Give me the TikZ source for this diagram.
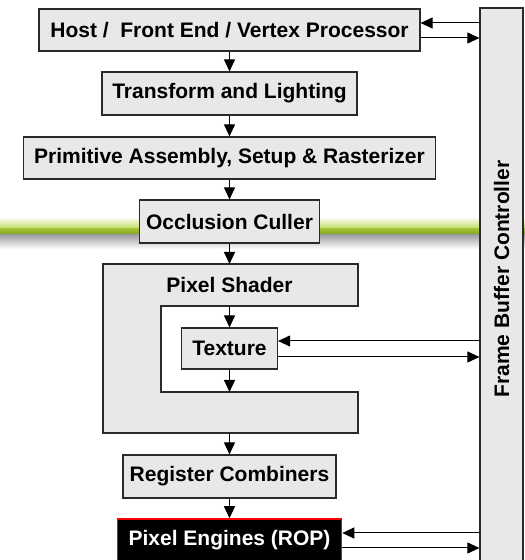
\documentclass[tikz,border=0pt]{standalone}
\usepackage{fontspec}
\setmainfont{Liberation Sans}
\usetikzlibrary{arrows.meta}
\definecolor{boxfill}{HTML}{E8E8E8}
\definecolor{boxline}{HTML}{2A2A2A}
\definecolor{bandlight}{HTML}{BCD858}
\definecolor{bandmid}{HTML}{A2C236}
\definecolor{banddark}{HTML}{7E9E1C}
\definecolor{bandshadow}{HTML}{A0A0A0}
\tikzset{
  stage/.style={draw=boxline, fill=boxfill, line width=1.2pt, inner sep=0pt,
    font=\fontsize{21}{25}\selectfont\bfseries, align=center},
  rop/.style={stage, fill=black, draw=red, line width=1.6pt, text=white},
  flow/.style={line width=1pt, draw=black, -{Triangle[length=12pt,width=11pt]}},
}
\begin{document}
\begin{tikzpicture}[x=1pt, y=1pt]
\useasboundingbox (0,0) rectangle (525,560);
\clip (0,0) rectangle (525,560);

% green separator band behind the pipeline
\shade[top color=white, bottom color=bandlight] (0,343) rectangle (525,331);
\shade[top color=bandmid, bottom color=banddark] (0,331.5) rectangle (525,324.5);
\shade[top color=bandshadow, bottom color=white] (0,325) rectangle (525,311);

% pipeline stages
\node[stage, minimum width=381pt, minimum height=42pt] (host) at (229.5,530) {Host /~ Front End / Vertex Processor};
\node[stage, minimum width=255pt, minimum height=43pt] (tl) at (229.5,466.5) {Transform and Lighting};
\node[stage, minimum width=412pt, minimum height=42pt] (prim) at (229.5,402) {Primitive Assembly, Setup \& Rasterizer};
\node[stage, minimum width=180pt, minimum height=43pt] (occ) at (229.5,338.5) {Occlusion Culler};

% pixel shader: C-shaped block around the texture unit
\draw[boxline, fill=boxfill, line width=1.2pt]
  (103,296) -- (358,296) -- (358,254) -- (161,254) -- (161,168)
  -- (358,168) -- (358,127) -- (103,127) -- cycle;
\node[font=\fontsize{21}{25}\selectfont\bfseries] (ps) at (229.5,275) {Pixel Shader};
\coordinate (psTop) at (229.5,296);
\coordinate (psBar) at (229.5,254);
\coordinate (psLow) at (229.5,168);
\coordinate (psBase) at (229.5,127);

\node[stage, minimum width=96pt, minimum height=41pt] (tex) at (229.5,211.5) {Texture};
\node[stage, minimum width=213pt, minimum height=43pt] (rc) at (229.5,83.5) {Register Combiners};
\node[rop, minimum width=224pt, minimum height=42pt] (pe) at (229.5,20) {Pixel Engines (ROP)};

% frame buffer controller column
\node[stage, minimum width=43pt, minimum height=554pt] (fbc) at (501.5,275) {};
\node[font=\fontsize{21}{25}\selectfont\bfseries, rotate=90] (fbclabel) at (501.5,281) {Frame Buffer Controller};

% downward flow
\draw[flow] (host.south) -- (tl.north);
\draw[flow] (tl.south) -- (prim.north);
\draw[flow] (prim.south) -- (occ.north);
\draw[flow] (occ.south) -- (psTop);
\draw[flow] (psBar) -- (tex.north);
\draw[flow] (tex.south) -- (psLow);
\draw[flow] (psBase) -- (rc.north);
\draw[flow] (rc.south) -- (pe.north);

% memory traffic with the frame buffer controller
\draw[flow] (fbc.west |- 0,537) -- (host.east |- 0,537);
\draw[flow] (host.east |- 0,522) -- (fbc.west |- 0,522);
\draw[flow] (fbc.west |- 0,219) -- (tex.east |- 0,219);
\draw[flow] (tex.east |- 0,203) -- (fbc.west |- 0,203);
\draw[flow] (fbc.west |- 0,27) -- (pe.east |- 0,27);
\draw[flow] (pe.east |- 0,12) -- (fbc.west |- 0,12);
\end{tikzpicture}
\end{document}
